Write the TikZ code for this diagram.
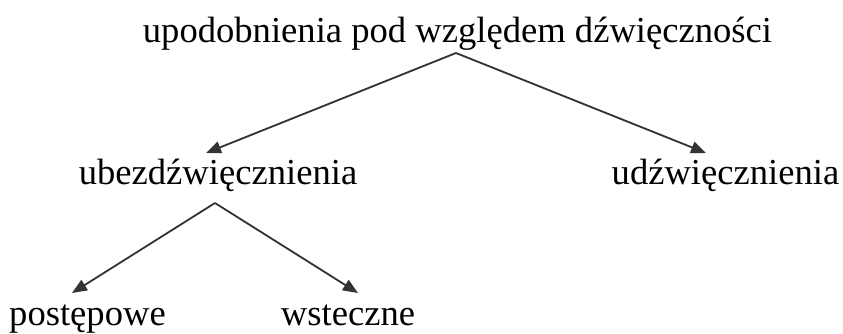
\documentclass[tikz,border=0pt]{standalone}
\usepackage{fontspec}
\setmainfont{Liberation Serif}
\usetikzlibrary{arrows.meta}
\begin{document}
\begin{tikzpicture}[x=1pt,y=-1pt,
  lbl/.style={anchor=base,inner sep=0pt,font=\fontsize{36.6}{40}\selectfont},
  conn/.style={draw=black!80,line width=1.8pt,-{Triangle[length=15pt,width=12pt]}}]
\useasboundingbox[fill=white] (0,0) rectangle (843,333);
\node[lbl] (top) at (457.5,42) {upodobnienia pod względem dźwięczności};
\node[lbl] (ubez) at (218,184) {ubezdźwięcznienia};
\node[lbl] (udz) at (725.5,184) {udźwięcznienia};
\node[lbl] (post) at (87.5,325) {postępowe};
\node[lbl] (wst) at (348,325) {wsteczne};
\coordinate (apexA) at (456,53);
\coordinate (apexB) at (215,203);
\coordinate (tipUbez) at (206,153);
\coordinate (tipUdz) at (706,153);
\coordinate (tipPost) at (72,293);
\coordinate (tipWst) at (358,293);
\draw[conn] (apexA) -- (tipUbez);
\draw[conn] (apexA) -- (tipUdz);
\draw[conn] (apexB) -- (tipPost);
\draw[conn] (apexB) -- (tipWst);
\end{tikzpicture}
\end{document}
